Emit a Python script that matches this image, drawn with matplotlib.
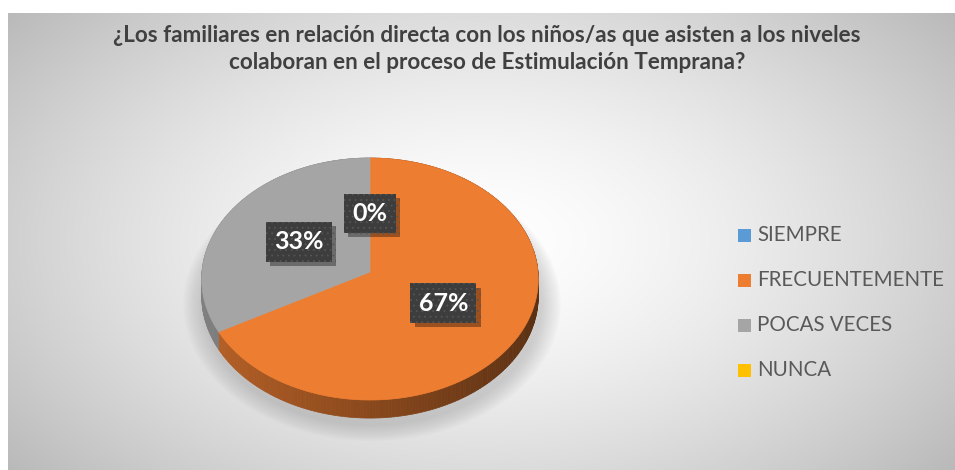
import numpy as np
import matplotlib.pyplot as plt
from matplotlib.patches import Polygon, Rectangle
from matplotlib.collections import PolyCollection
import matplotlib.colors as mcolors
import matplotlib.patheffects as pe

categories = ['SIEMPRE', 'FRECUENTEMENTE', 'POCAS VECES', 'NUNCA']
values = [0, 67, 33, 0]
colors = ['#5B9BD5', '#ED7D31', '#A5A5A5', '#FFC000']
title = ('¿Los familiares en relación directa con los niños/as que asisten a los niveles\n'
         'colaboran en el proceso de Estimulación Temprana?')

FONT = ['Lato', 'DejaVu Sans']
W, H = 955, 470
plt.rcParams['hatch.color'] = '#555555'
plt.rcParams['hatch.linewidth'] = 0.6

fig = plt.figure(figsize=(W / 100, H / 100), dpi=100)
fig.patch.set_facecolor('white')
ax = fig.add_axes([0, 0, 1, 1])

# radial gradient background of the chart area
x0, y0 = 8, 13
yy, xx = np.mgrid[y0:H, x0:W]
r = np.sqrt(((xx - 480) / 560.0) ** 2 + ((yy - 240) / 330.0) ** 2)
shade = 1.0 - 0.24 * np.clip(r, 0, 1.2) ** 1.5
ax.imshow(np.dstack([shade] * 3), extent=[x0, W, H, y0], origin='upper',
          aspect='auto', interpolation='bilinear', zorder=0)

# 3d pie geometry (simple perspective)
cx, cy = 370, 272
a, b, p, depth = 168, 120.6, 0.058, 17


def proj(theta, rad=1.0, z=0.0):
    # theta measured clockwise from 12 o'clock
    u = rad * np.sin(theta)
    v = rad * np.cos(theta)
    f = 1.0 / (1.0 + p * v)
    return cx + a * u * f, cy - b * v * f + z * f


vals = np.array(values, dtype=float)
fracs = vals / vals.sum()
starts = 2 * np.pi * np.concatenate([[0], np.cumsum(fracs)[:-1]])
ends = starts + 2 * np.pi * fracs

# soft shadow under the pie
t = np.linspace(0, 2 * np.pi, 200)
for k in range(10):
    grow = 1.0 + 0.012 * (k + 1)
    sx, sy = proj(t, grow, depth + 4)
    ax.add_patch(Polygon(np.column_stack([sx + 2, sy + 2]), closed=True,
                         fc='#7f7f7f', ec='none', alpha=0.035, zorder=1))

# side faces
quads, qcols = [], []
for s, e, c in zip(starts, ends, colors):
    if e - s <= 0:
        continue
    tt = np.linspace(s, e, max(int(np.degrees(e - s)), 2) + 1)
    base = np.array(mcolors.to_rgb(c))
    for t1, t2 in zip(tt[:-1], tt[1:]):
        p1 = proj(t1); p2 = proj(t2)
        p3 = proj(t2, z=depth); p4 = proj(t1, z=depth)
        quads.append([p1, p2, p3, p4])
        u = np.sin((t1 + t2) / 2)
        qcols.append(np.clip(base * (0.58 - 0.2 * u), 0, 1))
ax.add_collection(PolyCollection(quads, facecolors=qcols, edgecolors=qcols,
                                 linewidths=0.5, zorder=2))

# top faces
for s, e, c in zip(starts, ends, colors):
    if e - s <= 0:
        continue
    tt = np.linspace(s, e, 200)
    px, py = proj(tt)
    pts = np.vstack([[cx, cy], np.column_stack([px, py])])
    ax.add_patch(Polygon(pts, closed=True, fc=c, ec=c, lw=0.5, zorder=3))

# data labels
seen = set()
for s, e, v in zip(starts, ends, values):
    mid = (s + e) / 2
    lx, ly = proj(mid, 0.5)
    key = (round(lx), round(ly))
    if key in seen:
        continue
    seen.add(key)
    txt = ax.text(lx, ly, f'{v}%', ha='center', va='center', color='white',
                  fontsize=18, fontweight='bold', family=FONT, zorder=6,
                  bbox=dict(boxstyle='square,pad=0.33', fc='#3d3d3d',
                            ec='#555555', lw=0, hatch='...'))
    txt.get_bbox_patch().set_path_effects([
        pe.SimplePatchShadow(offset=(3, -3), shadow_rgbFace='black', alpha=0.35),
        pe.Normal()])

# title
ax.text(487, 49, title, ha='center', va='center', color='#404040',
        fontsize=16.2, fontweight='bold', family=FONT, linespacing=1.35, zorder=6)

# legend
for i, (cat, c) in enumerate(zip(categories, colors)):
    ly = 235 + 45 * i
    ax.add_patch(Rectangle((738, ly - 6.5), 13, 13, fc=c, ec='none', zorder=6))
    ax.text(757, ly, cat, ha='left', va='center', color='#595959',
            fontsize=14.8, family=FONT, zorder=6)

ax.set_xlim(0, W)
ax.set_ylim(H, 0)
ax.axis('off')
fig.savefig('out.png', dpi=100, facecolor='white')
